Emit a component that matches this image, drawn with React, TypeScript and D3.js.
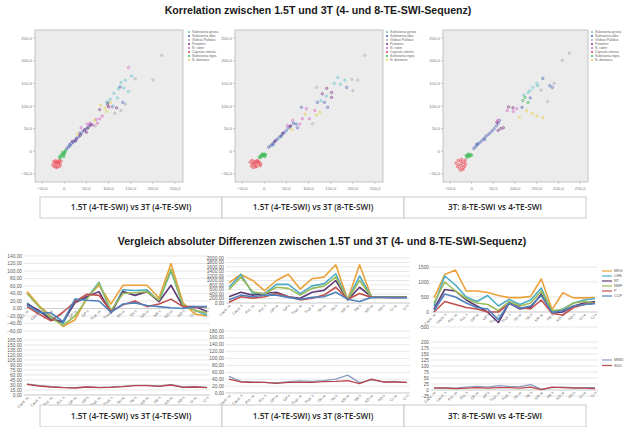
import React from "react";
import * as d3 from "d3";

const SANS = "'Liberation Sans', Arial, sans-serif";

// scatter legend (SPSS style)
const structureNames = [
  "Substantia grisea",
  "Substantia alba",
  "Globus Pallidus",
  "Putamen",
  "N. ruber",
  "Capsula interna",
  "Substantia nigra",
  "N. dentatus",
];
const structureColors = ["#5fc3cb", "#4a5fb4", "#a9a9a9", "#7c2c80", "#d960c6", "#ee3b4a", "#2eb64a", "#e3cf45"];

// [group, 1.5T value, 3T value]
const scatterA: [number, number, number][] = [
  [5, -26, -30], [5, -23, -34], [5, -21, -26], [5, -19, -31], [5, -17, -22], [5, -15, -35], [5, -13, -27], [5, -11, -20],
  [5, -9, -29], [5, -20, -21], [5, -16, -26], [5, -24, -23], [5, -12, -24], [5, -7, -22], [5, -18, -36], [5, -10, -33],
  [6, -11, -13], [6, -8, -9], [6, -6, -11], [6, -4, -6], [6, -2, -8], [6, 0, -3], [6, 2, -1], [6, -9, -15], [6, -4, -2],
  [6, 3, 2], [6, -1, -12], [6, 1, -6],
  [1, 6, 6], [1, 9, 9], [1, 13, 12], [1, 16, 17], [1, 20, 20], [1, 24, 24], [1, 28, 29], [1, 33, 32], [1, 38, 38],
  [1, 42, 44], [1, 47, 48], [1, 52, 51], [1, 57, 57], [1, 61, 60], [1, 12, 15], [1, 25, 22], [1, 35, 40],
  [1, 98, 108], [1, 132, 108], [1, 126, 142],
  [3, 18, 22], [3, 27, 26], [3, 36, 35], [3, 46, 47], [3, 54, 52], [3, 60, 58], [3, 50, 42], [3, 98, 103], [3, 100, 98],
  [3, 118, 96], [3, 80, 92],
  [4, 38, 52], [4, 52, 60], [4, 58, 62], [4, 65, 58], [4, 72, 70], [4, 80, 72], [4, 86, 78], [4, 75, 62], [4, 145, 185],
  [4, 108, 98],
  [7, 30, 38], [7, 68, 68], [7, 82, 102], [7, 92, 95], [7, 96, 88], [7, 104, 108],
  [0, 96, 108], [0, 104, 115], [0, 112, 128], [0, 122, 138], [0, 128, 152], [0, 138, 157], [0, 145, 132], [0, 152, 166],
  [0, 120, 118], [0, 110, 100], [0, 134, 140],
  [2, 220, 212], [2, 200, 158], [2, 128, 90], [2, 114, 84], [2, 70, 56], [2, 138, 104], [2, 160, 160],
];

const scatterB: [number, number, number][] = [
  [5, -32, -24], [5, -29, -33], [5, -27, -28], [5, -25, -36], [5, -23, -22], [5, -21, -30], [5, -19, -26], [5, -17, -34],
  [5, -15, -20], [5, -13, -29], [5, -11, -24], [5, -9, -32], [5, -28, -20], [5, -24, -27], [5, -20, -35], [5, -14, -24],
  [5, -8, -28], [5, -18, -22],
  [6, -11, -13], [6, -8, -10], [6, -6, -12], [6, -4, -8], [6, -2, -9], [6, 0, -6], [6, 3, -7], [6, -9, -14], [6, -5, -6],
  [6, 2, -10], [6, 1, -12],
  [1, 10, 9], [1, 14, 12], [1, 18, 16], [1, 22, 20], [1, 26, 24], [1, 30, 27], [1, 35, 32], [1, 40, 37], [1, 45, 41],
  [1, 50, 46], [1, 55, 52], [1, 60, 56], [1, 66, 62], [1, 72, 60], [1, 20, 14], [1, 38, 33],
  [1, 120, 108], [1, 136, 108], [1, 143, 97], [1, 84, 97], [1, 75, 52], [1, 186, 141],
  [3, 24, 22], [3, 42, 40], [3, 58, 55], [3, 141, 139], [3, 152, 130], [3, 152, 119], [3, 131, 127],
  [4, 52, 57], [4, 64, 68], [4, 86, 72], [4, 102, 72], [4, 95, 94], [4, 114, 90], [4, 80, 60],
  [7, 125, 86], [7, 118, 80], [7, 62, 48], [7, 92, 82],
  [0, 166, 163], [0, 182, 157], [0, 172, 148], [0, 158, 150], [0, 140, 122], [0, 128, 112],
  [2, 227, 212], [2, 198, 159], [2, 211, 157], [2, 200, 134], [2, 118, 141], [2, 109, 61],
];

const scatterC: [number, number, number][] = [
  [5, -36, -26], [5, -33, -34], [5, -30, -30], [5, -28, -38], [5, -26, -22], [5, -24, -32], [5, -22, -27], [5, -20, -40],
  [5, -18, -24], [5, -16, -33], [5, -14, -28], [5, -31, -20], [5, -25, -42], [5, -19, -36], [5, -23, -18], [5, -15, -20],
  [6, -13, -10], [6, -10, -8], [6, -8, -12], [6, -6, -9], [6, -4, -11], [6, -2, -7], [6, -11, -14], [6, -7, -6], [6, 0, -9],
  [6, 118, 112], [6, 130, 108], [6, 123, 119],
  [1, 5, 6], [1, 9, 10], [1, 13, 14], [1, 17, 18], [1, 22, 22], [1, 27, 27], [1, 32, 32], [1, 37, 36], [1, 42, 40],
  [1, 47, 45], [1, 52, 50], [1, 57, 56], [1, 61, 62], [1, 64, 68], [1, 12, 16], [1, 30, 26],
  [1, 116, 97], [1, 164, 161], [1, 180, 145], [1, 186, 141], [1, 135, 118],
  [3, 61, 46], [3, 67, 50], [3, 73, 52], [3, 85, 98], [3, 95, 96], [3, 58, 64],
  [4, 82, 90], [4, 104, 94], [4, 60, 68], [4, 96, 88],
  [7, 127, 90], [7, 140, 84], [7, 150, 78], [7, 164, 74], [7, 110, 75],
  [0, 134, 134], [0, 130, 130], [0, 141, 141], [0, 150, 150], [0, 152, 145], [0, 120, 124],
  [2, 209, 201], [2, 225, 217], [2, 190, 150], [2, 175, 110], [2, 160, 135],
];

const scatterTicks = [-50, 0, 50, 100, 150, 200, 250];

// line charts: regions on the x axis, readers as series
const regions = [
  "Caud. re", "Caud. li", "Put. re", "Put. li", "GP re", "GP li", "Thal. re", "Thal. li",
  "SN re", "SN li", "NR re", "NR li", "ND re", "ND li", "CI re", "CI li",
];
const readers = ["MKG", "CHK", "NT", "NMF", "P", "CCF"];
const readerColors = ["#eba23a", "#4bacc6", "#5f3b73", "#9bbb59", "#c0504d", "#4f81bd"];

const diffA_MKG = [45, 8, -20, -48, -30, 30, 62, 12, 62, 62, 62, 28, 120, 15, -15, -20];
const diffA_CHK = [15, -10, -22, -40, 20, 28, 70, -10, 50, 48, 50, 20, 100, 8, -5, -18];
const diffA_NT = [12, -5, -30, -35, 15, 32, 45, -12, 45, 35, 45, 18, 62, 5, 5, -8];
const diffA_NMF = [40, 5, -25, -45, -20, 25, 68, -5, 40, 42, 45, 22, 105, 8, -5, -12];
const diffA_P = [5, -15, -33, -10, 18, 38, 35, -8, 10, 20, 5, 12, 25, 5, 2, 5];
const diffA_CCF = [10, -10, -12, -35, 25, 22, 20, -10, 12, 15, 8, 5, 2, 0, 5, 5];

const diffB_MKG = [900, 1270, 1000, 550, 1000, 1280, 620, 1080, 1150, 1700, 140, 1700, 280, 280, 270, 280];
const diffB_CHK = [700, 1270, 420, 420, 830, 830, 420, 760, 850, 1300, 140, 1200, 280, 280, 270, 270];
const diffB_NT = [280, 480, 350, 420, 480, 280, 210, 480, 560, 1000, 140, 700, 280, 280, 260, 260];
const diffB_NMF = [600, 1150, 500, 400, 700, 650, 350, 650, 750, 1150, 150, 1000, 280, 280, 270, 270];
const diffB_P = [30, 280, 210, 280, 420, 280, 140, 210, 350, 700, 170, 420, 250, 250, 240, 250];
const diffB_CCF = [140, 350, 280, 350, 350, 250, 170, 250, 280, 480, 170, 70, 250, 250, 240, 240];

const diffC_MKG = [470, 1250, 1400, 700, 700, 650, 550, 480, 480, 520, 1100, 80, 640, 470, 470, 480];
const diffC_CHK = [200, 1200, 900, 500, 350, 550, 200, 420, 250, 400, 800, 0, 100, 300, 400, 450];
const diffC_NT = [100, 750, 700, 400, 200, 0, -350, 300, 100, 150, 600, -30, 0, 200, 300, 350];
const diffC_NMF = [300, 1000, 700, 450, 300, 250, 50, 350, 200, 300, 700, 50, 80, 300, 350, 300];
const diffC_P = [0, 350, 250, 150, 100, 0, 0, 280, 150, 100, 400, -50, -100, 150, 250, 300];
const diffC_CCF = [50, 600, 500, 300, 150, 100, -250, 300, 120, 200, 550, -20, 50, 200, 250, 280];

// lower charts: summary lines
const summaryNames = ["MWD", "SDD"];
const summaryColors = ["#8a9cc0", "#b8454a"];
const sumA_MWD = [33, 28, 25, 23, 22, 24, 23, 24, 26, 29, 29, 27, 31, 24, 25, 23];
const sumA_SDD = [32, 27, 24, 22, 21, 24, 22, 23, 25, 28, 28, 26, 30, 23, 24, 22];
const sumB_MWD = [48, 34, 32, 31, 29, 33, 35, 34, 36, 40, 52, 30, 38, 32, 34, 30];
const sumB_SDD = [40, 32, 31, 31, 28, 31, 31, 31, 33, 34, 36, 27, 40, 32, 32, 31];
const sumC_MWD = [10, 10, 8, 12, 15, 12, 18, 15, 14, 22, 3, 10, 12, 10, 10, 10];
const sumC_SDD = [8, 8, 6, 8, 10, 8, 10, 10, 8, 12, 2, 12, 10, 8, 8, 6];

const panelTitles = [
  "1.5T (4-TE-SWI) vs 3T (4-TE-SWI)",
  "1.5T (4-TE-SWI) vs 3T (8-TE-SWI)",
  "3T: 8-TE-SWI vs 4-TE-SWI",
];

const commaFmt = (v: number) => d3.format(".2f")(v).replace(".", ",");
const scatterFmt = (v: number) => (v === 0 ? "0" : d3.format(".1f")(v).replace(".", ","));

function ScatterPanel({ x0, w, points, legendX }: { x0: number; w: number; points: [number, number, number][]; legendX: number }) {
  const y0 = 30;
  const h = 152;
  const x = d3.scaleLinear().domain([-66, 268]).range([x0, x0 + w]);
  const y = d3.scaleLinear().domain([-68, 268]).range([y0 + h, y0]);
  return (
    <g>
      <rect x={x0} y={y0} width={w} height={h} fill="#ececec" stroke="#b8b8b8" strokeWidth={0.8} />
      {scatterTicks.map((t) => (
        <g key={"t" + t} fill="#777" fontSize={4.3}>
          <line x1={x(t)} x2={x(t)} y1={y0 + h} y2={y0 + h + 2} stroke="#999" strokeWidth={0.5} />
          <text x={x(t)} y={y0 + h + 8} textAnchor="middle">{scatterFmt(t)}</text>
          <line x1={x0 - 2} x2={x0} y1={y(t)} y2={y(t)} stroke="#999" strokeWidth={0.5} />
          <text x={x0 - 3} y={y(t) + 1.5} textAnchor="end">{scatterFmt(t)}</text>
        </g>
      ))}
      {points.map(([g, px, py], i) => (
        <circle
          key={i}
          cx={x(px)}
          cy={y(py)}
          r={1.2}
          fill={structureColors[g]}
          fillOpacity={0.25}
          stroke={structureColors[g]}
          strokeOpacity={0.85}
          strokeWidth={0.6}
        />
      ))}
      {structureNames.map((n, i) => (
        <g key={n} transform={`translate(${legendX},${y0 + 3 + i * 4})`}>
          <circle cx={0} cy={-1} r={1} fill={structureColors[i]} />
          <text x={3} y={0.3} fontSize={3.4} fill="#666">{n}</text>
        </g>
      ))}
    </g>
  );
}

type LineProps = {
  xl: number;
  xr: number;
  yTop: number;
  yBot: number;
  domain: [number, number];
  ticks: number[];
  fmt: (v: number) => string;
  series: number[][];
  colors: string[];
  axisVal: number;
  width?: number;
};

function LineChart({ xl, xr, yTop, yBot, domain, ticks, fmt, series, colors, axisVal, width = 1.6 }: LineProps) {
  const x = d3.scalePoint<string>().domain(regions).range([xl + 3, xr - 3]);
  const y = d3.scaleLinear().domain(domain).range([yBot, yTop]);
  const line = d3
    .line<number>()
    .x((_, i) => x(regions[i]) as number)
    .y((d) => y(d));
  const ay = y(axisVal);
  return (
    <g>
      {ticks.map((t) => (
        <g key={t}>
          <line x1={xl} x2={xr} y1={y(t)} y2={y(t)} stroke="#d9d9d9" strokeWidth={0.6} />
          <text x={xl - 2} y={y(t) + 1.6} textAnchor="end" fontSize={4.8} fill="#595959">{fmt(t)}</text>
        </g>
      ))}
      <line x1={xl} x2={xr} y1={ay} y2={ay} stroke="#bfbfbf" strokeWidth={0.6} />
      {regions.map((r) => (
        <text
          key={r}
          transform={`translate(${(x(r) as number) + 2},${ay + 3}) rotate(-45)`}
          textAnchor="end"
          fontSize={3.8}
          fill="#6a6a6a"
        >
          {r}
        </text>
      ))}
      {series.map((s, i) => (
        <path key={i} d={line(s) || ""} fill="none" stroke={colors[i]} strokeWidth={width} strokeLinejoin="round" />
      ))}
    </g>
  );
}

function Legend({ x0, y0, names, colors, step }: { x0: number; y0: number; names: string[]; colors: string[]; step: number }) {
  return (
    <g>
      {names.map((n, i) => (
        <g key={n} transform={`translate(${x0},${y0 + i * step})`}>
          <line x1={0} x2={10} y1={0} y2={0} stroke={colors[i]} strokeWidth={1.2} />
          <text x={12} y={1.3} fontSize={3.8} fill="#595959">{n}</text>
        </g>
      ))}
    </g>
  );
}

function TitleRow({ y, h }: { y: number; h: number }) {
  const edges = [40, 222, 404, 586];
  return (
    <g>
      {panelTitles.map((t, i) => (
        <g key={t}>
          <rect x={edges[i]} y={y} width={edges[i + 1] - edges[i]} height={h} fill="#fff" stroke="#bdbdbd" strokeWidth={0.8} />
          <text
            x={(edges[i] + edges[i + 1]) / 2}
            y={y + h / 2 + 2.8}
            textAnchor="middle"
            fontSize={8.2}
            fontWeight={600}
            fontFamily="'Open Sans', sans-serif"
            fill="#262626"
          >
            {t}
          </text>
        </g>
      ))}
    </g>
  );
}

export default function App() {
  const upperA = [diffA_MKG, diffA_CHK, diffA_NT, diffA_NMF, diffA_P, diffA_CCF];
  const upperB = [diffB_MKG, diffB_CHK, diffB_NT, diffB_NMF, diffB_P, diffB_CCF];
  const upperC = [diffC_MKG, diffC_CHK, diffC_NT, diffC_NMF, diffC_P, diffC_CCF];
  return (
    <svg
      width={626}
      height={427}
      style={{ position: "absolute", left: 0, top: 0, background: "#fff" }}
      fontFamily={SANS}
    >
      <rect width={626} height={427} fill="#fff" />
      <text x={318} y={14} textAnchor="middle" fontSize={10.6} fontWeight="bold" fill="#1a1a1a">
        Korrelation zwischen 1.5T und 3T (4- und 8-TE-SWI-Sequenz)
      </text>

      <ScatterPanel x0={35} w={148} points={scatterA} legendX={189} />
      <ScatterPanel x0={235} w={148} points={scatterB} legendX={387} />
      <ScatterPanel x0={443} w={145} points={scatterC} legendX={592} />

      <TitleRow y={197} h={21} />

      <text x={322} y={245} textAnchor="middle" fontSize={10.6} fontWeight="bold" fill="#1a1a1a">
        Vergleich absoluter Differenzen zwischen 1.5T und 3T (4- und 8-TE-SWI-Sequenz)
      </text>

      <LineChart xl={24} xr={210} yTop={256} yBot={331} domain={[-60, 140]} ticks={d3.range(-60, 141, 20)}
        fmt={commaFmt} series={upperA} colors={readerColors} axisVal={0} />
      <LineChart xl={24} xr={210} yTop={340} yBot={395} domain={[0, 165]} ticks={d3.range(0, 166, 15)}
        fmt={commaFmt} series={[sumA_MWD, sumA_SDD]} colors={summaryColors} axisVal={0} width={1.3} />

      <LineChart xl={226} xr={410} yTop={258} yBot={303} domain={[0, 2000]} ticks={d3.range(0, 2001, 200)}
        fmt={commaFmt} series={upperB} colors={readerColors} axisVal={0} />
      <LineChart xl={226} xr={410} yTop={331} yBot={393} domain={[0, 180]} ticks={d3.range(0, 181, 20)}
        fmt={commaFmt} series={[sumB_MWD, sumB_SDD]} colors={summaryColors} axisVal={0} width={1.3} />

      <LineChart xl={431} xr={598} yTop={267} yBot={327} domain={[-500, 1500]} ticks={d3.range(-500, 1501, 500)}
        fmt={(v) => String(v)} series={upperC} colors={readerColors} axisVal={0} />
      <LineChart xl={431} xr={598} yTop={342} yBot={396} domain={[-25, 200]} ticks={d3.range(-25, 201, 25)}
        fmt={(v) => String(v)} series={[sumC_MWD, sumC_SDD]} colors={summaryColors} axisVal={0} width={1.3} />

      <Legend x0={602} y0={271} names={readers} colors={readerColors} step={5} />
      <Legend x0={602} y0={360} names={summaryNames} colors={summaryColors} step={5.5} />

      <TitleRow y={405} h={22} />
    </svg>
  );
}
